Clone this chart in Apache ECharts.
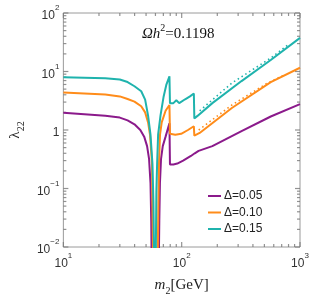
<!DOCTYPE html>
<html><head><meta charset="utf-8">
<script src="https://cdn.jsdelivr.net/npm/echarts@6/dist/echarts.min.js"></script>
<style>html,body{margin:0;padding:0;background:#fff}#c{width:313px;height:301px}</style>
</head><body><div id="c"></div>
<script>
// ---- data ----
const mPurple = [10,22.6,30,34.9,39.9,44.7,48.2,51,53,54.5,55.3,55.6,55.8, 64.1,64.3,64.7,65.5,66.9,69.2,73.1,78.8,79.6,85.1,91.8,102.8,119.7,129,139,181.6,320.6,566,1000];
const lamPurple = [1.97,1.76,1.63,1.46,1.25,1.0,0.77,0.53,0.32,0.125,0.028,0.01,0.003, 0.003,0.01,0.028,0.125,0.32,0.53,0.77,1.30,0.257,0.257,0.267,0.30,0.36,0.40,0.44,0.53,0.96,1.70,2.77];

const mOrange = [10,22.6,30,34.9,39.9,45.5,49.1,52,54,56.1,56.7,57.2,57.4, 62.6,62.9,63.4,64.3,65.6,67.8,73.1,78.8,79.6,88.3,99,113,126.7,127.9,141.9,265.4,566,1000];
const lamOrange = [4.36,4.05,3.75,3.38,3.05,2.55,2.0,1.35,0.83,0.267,0.04,0.01,0.003, 0.003,0.01,0.04,0.267,0.83,1.35,2.13,2.67,0.86,0.83,0.86,1.0,1.16,0.80,0.89,2.38,6.6,11.6];

const mTeal = [10,22.6,30,34.9,39.9,45.5,49.1,52,54.5,56.6,57.7,58.3,58.5, 60.3,60.5,61.1,62.0,63.2,66.2,70.4,74.1,78.8,79.6,85.1,90.1,95.3,106.9,117.5,126.7,127.9,136.8,181.6,320.6,566,1000];
const lamTeal = [7.98,7.68,7.3,6.6,5.6,4.6,3.3,1.76,0.83,0.267,0.059,0.01,0.003, 0.003,0.01,0.086,0.267,0.83,1.76,3.75,5.9,8.28,2.88,2.88,3.22,2.88,3.35,3.75,4.2,1.57,1.76,2.88,6.86,15.7,37.5];

const mOrangeDot = [139.3,265.4,515,753];
const lamOrangeDot = [1.0,2.67,6.12,8.93];
const mTealDot = [141.9,265.4,566,796];
const lamTealDot = [2.13,6.35,17.0,28.8];

const seriesNames = ['Δ=0.05','Δ=0.10','Δ=0.15'];
const xMajor = [10,100,1000];
const yMajor = [0.01,0.1,1,10,100];
const xMinor = [20,30,40,50,60,70,80,90,200,300,400,500,600,700,800,900];
const yMinor = [0.02,0.03,0.04,0.05,0.06,0.07,0.08,0.09,0.2,0.3,0.4,0.5,0.6,0.7,0.8,0.9,2,3,4,5,6,7,8,9,20,30,40,50,60,70,80,90];

const colors = ['#8b1a8b','#ff8c1a','#1fb3ad'];
const zip = (a,b)=>a.map((v,i)=>[v,b[i]]);

const sans = 'Liberation Sans, Arial, sans-serif';
const serif = 'Liberation Serif, Times New Roman, serif';
const tickColor = '#777777';

function powLabel(v){
  const e = Math.round(Math.log10(v));
  if (e === 0) return '{b|1}';
  return '{b|10}{s|' + (e<0 ? '−'+(-e) : e) + '}';
}
const labelRich = {
  b:{fontSize:12,fontFamily:sans,color:'#333',lineHeight:18,verticalAlign:'bottom'},
  s:{fontSize:8,fontFamily:sans,color:'#333',lineHeight:10,verticalAlign:'top'}
};

// tick marks drawn as thin rect symbols placed through the axes' scales
function tickSeries(points, size, offset){
  return {type:'scatter', clip:false, data:points,
    symbol:'rect', symbolSize:size, symbolOffset:offset,
    itemStyle:{color:tickColor}};
}
const allTicks = [];
[[xMinor,3],[xMajor,5]].forEach(([vals,L])=>{
  allTicks.push(tickSeries(vals.map(v=>[v,0.01]), [1.2,L], [0,-L/2]));
  allTicks.push(tickSeries(vals.map(v=>[v,100]), [1.2,L], [0,L/2]));
});
[[yMinor,3],[yMajor,5]].forEach(([vals,L])=>{
  allTicks.push(tickSeries(vals.map(v=>[10,v]), [L,1.2], [L/2,0]));
  allTicks.push(tickSeries(vals.map(v=>[1000,v]), [L,1.2], [-L/2,0]));
});

const chart = echarts.init(document.getElementById('c'), null, {renderer:'canvas'});
chart.setOption({
  animation:false,
  backgroundColor:'#fff',
  grid:{left:57,right:13,top:13,bottom:45,show:true,borderColor:'#9a9a9a',borderWidth:1},
  title:{
    text:'{i|Ω}{i|h}{s|2}{n|=0.1198}',
    left:137, top:18,
    textStyle:{fontWeight:'normal', rich:{
      i:{fontSize:15,fontFamily:serif,fontStyle:'italic',fontWeight:'normal',color:'#111',lineHeight:19,verticalAlign:'bottom'},
      s:{fontSize:10,fontFamily:serif,fontWeight:'normal',color:'#111',lineHeight:10,verticalAlign:'top'},
      n:{fontSize:15,fontFamily:serif,fontWeight:'normal',color:'#111',lineHeight:19,verticalAlign:'bottom'}
    }}
  },
  legend:{
    data:seriesNames, orient:'vertical', left:203, top:185,
    icon:'rect', itemWidth:13, itemHeight:2, itemGap:4.5,
    textStyle:{fontSize:12,fontFamily:sans,color:'#222',padding:[0,0,0,-2]}
  },
  xAxis:{
    type:'log', min:10, max:1000,
    name:'{i|m}{sub|2}{n|[GeV]}', nameLocation:'middle', nameGap:31,
    nameTextStyle:{rich:{
      i:{fontSize:15,fontFamily:serif,fontStyle:'italic',color:'#222',lineHeight:18,verticalAlign:'top'},
      sub:{fontSize:10,fontFamily:serif,color:'#222',lineHeight:12,verticalAlign:'bottom'},
      n:{fontSize:15,fontFamily:serif,color:'#222',lineHeight:18,verticalAlign:'top'}
    }},
    axisLine:{show:false}, axisTick:{show:false}, splitLine:{show:false},
    axisLabel:{formatter:powLabel, rich:labelRich, margin:5}
  },
  yAxis:{
    type:'log', min:0.01, max:100,
    name:'{n|λ}{sub|22}', nameLocation:'middle', nameGap:36,
    nameTextStyle:{rich:{
      n:{fontSize:15,fontFamily:serif,color:'#222',lineHeight:18,verticalAlign:'top'},
      sub:{fontSize:10,fontFamily:serif,color:'#222',lineHeight:12,verticalAlign:'bottom'}
    }},
    axisLine:{show:false}, axisTick:{show:false}, splitLine:{show:false},
    axisLabel:{formatter:powLabel, rich:labelRich, margin:4}
  },
  series:allTicks.concat([
    {type:'line', name:'dotOrange', data:zip(mOrangeDot,lamOrangeDot), showSymbol:false, z:3,
     lineStyle:{color:colors[1],width:1.6,type:[1.5,3]}},
    {type:'line', name:'dotTeal', data:zip(mTealDot,lamTealDot), showSymbol:false, z:3,
     lineStyle:{color:colors[2],width:1.6,type:[1.5,3]}},
    {type:'line', name:seriesNames[0], data:zip(mPurple,lamPurple), showSymbol:false, z:4,
     color:colors[0], lineStyle:{color:colors[0],width:2}},
    {type:'line', name:seriesNames[1], data:zip(mOrange,lamOrange), showSymbol:false, z:4,
     color:colors[1], lineStyle:{color:colors[1],width:2}},
    {type:'line', name:seriesNames[2], data:zip(mTeal,lamTeal), showSymbol:false, z:4,
     color:colors[2], lineStyle:{color:colors[2],width:2}}
  ])
});
</script></body></html>
